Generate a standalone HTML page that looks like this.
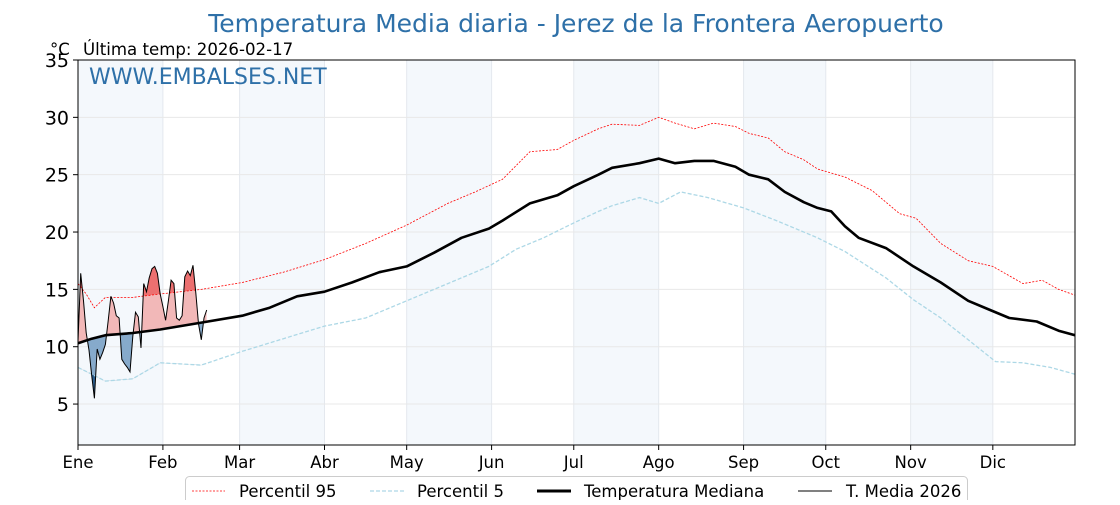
<!DOCTYPE html>
<html><head><meta charset="utf-8">
<style>
body{margin:0;background:#fff;}
svg text{font-family:"DejaVu Sans","Liberation Sans",sans-serif;}
</style></head>
<body>
<svg id="chart" width="1120" height="500" xmlns="http://www.w3.org/2000/svg">
<defs>
<clipPath id="plotClip"><rect x="78" y="60" width="997" height="385"/></clipPath>
<clipPath id="aboveMed"><polygon id="aboveMedPoly"/></clipPath>
<clipPath id="belowMed"><polygon id="belowMedPoly"/></clipPath>
<clipPath id="aboveP95"><polygon id="aboveP95Poly"/></clipPath>
<clipPath id="belowP5"><polygon id="belowP5Poly"/></clipPath>
</defs>
<rect width="1120" height="500" fill="#fff"/>
<g id="bands"></g>
<g id="grid"></g>
<g id="fills" clip-path="url(#plotClip)"></g>
<g id="series" clip-path="url(#plotClip)"></g>
<rect x="78" y="60" width="997" height="385" fill="none" stroke="#000" stroke-width="1"/>
<g id="axes"></g>
<text x="576" y="32" text-anchor="middle" font-size="25" fill="#2e70a8">Temperatura Media diaria - Jerez de la Frontera Aeropuerto</text>
<text x="50" y="55" font-size="16.5" fill="#000">°C</text>
<text x="83" y="55" font-size="16.6" fill="#000">Última temp: 2026-02-17</text>
<text x="89" y="84" font-size="22" fill="#2e70a8">WWW.EMBALSES.NET</text>
<g>
<rect x="185.5" y="476.5" width="782" height="30" rx="4" fill="#fff" stroke="#ccc"/>
<line x1="192" y1="491" x2="225" y2="491" stroke="#f00" stroke-width="0.8" stroke-dasharray="2,1.5"/>
<text x="239" y="497" font-size="16.5">Percentil 95</text>
<line x1="370" y1="491" x2="404" y2="491" stroke="#add8e6" stroke-width="1.2" stroke-dasharray="4,2"/>
<text x="417" y="497" font-size="16.5">Percentil 5</text>
<line x1="537" y1="491" x2="571" y2="491" stroke="#000" stroke-width="3"/>
<text x="584" y="497" font-size="16.5">Temperatura Mediana</text>
<line x1="798" y1="491" x2="832" y2="491" stroke="#000" stroke-width="1"/>
<text x="846" y="497" font-size="16.5">T. Media 2026</text>
</g>
</svg>
<script>
const monthLabels=["Ene","Feb","Mar","Abr","May","Jun","Jul","Ago","Sep","Oct","Nov","Dic"];
const monthStarts=[0,31,59,90,120,151,181,212,243,273,304,334];
const yTicks=[5,10,15,20,25,30,35];
const medDays=[0,5,10,20,30,45,60,70,80,90,100,110,120,130,140,150,155,165,175,181,190,195,205,212,218,225,232,240,245,252,258,265,270,275,280,285,295,305,315,325,333,340,350,358,364];
const medVals=[10.3,10.7,11.0,11.2,11.5,12.1,12.7,13.4,14.4,14.8,15.6,16.5,17.0,18.2,19.5,20.3,21.0,22.5,23.2,24.0,25.0,25.6,26.0,26.4,26.0,26.2,26.2,25.7,25.0,24.6,23.5,22.6,22.1,21.8,20.5,19.5,18.6,17.0,15.6,14.0,13.2,12.5,12.2,11.4,11.0];
const p95Days=[0,3,6,10,20,30,45,60,75,90,105,120,135,145,155,160,165,175,181,190,195,205,212,218,225,232,240,245,252,258,265,270,280,290,300,306,315,325,334,345,352,358,364];
const p95Vals=[15.5,14.6,13.4,14.3,14.3,14.6,15.0,15.6,16.5,17.6,19.0,20.6,22.5,23.5,24.6,25.8,27.0,27.2,28.0,29.0,29.4,29.3,30.0,29.5,29.0,29.5,29.2,28.6,28.2,27.0,26.3,25.5,24.8,23.6,21.6,21.2,19.0,17.5,17.0,15.5,15.8,15.0,14.5];
const p5Days=[0,5,10,20,30,45,60,75,90,105,120,135,150,160,170,181,190,195,205,212,220,230,243,255,270,280,295,305,315,325,335,345,355,364];
const p5Vals=[8.2,7.6,7.0,7.2,8.6,8.4,9.6,10.7,11.8,12.5,14.0,15.5,17.0,18.5,19.5,20.8,21.8,22.3,23.0,22.5,23.5,23.0,22.1,21.0,19.5,18.3,16.0,14.1,12.5,10.6,8.7,8.6,8.2,7.6];
const t2026=[10.5,16.4,14.0,11.2,9.7,7.5,5.5,9.8,8.9,9.5,10.2,12.2,14.4,13.8,12.7,12.5,8.9,8.5,8.2,7.8,10.9,13.0,12.6,9.9,15.5,14.8,16.0,16.8,17.0,16.4,14.6,13.5,12.3,14.0,15.8,15.5,12.5,12.3,12.7,16.1,16.6,16.2,17.1,14.7,12.0,10.6,12.5,13.2];

const X0=78,X1=1075,Y0=60,Y1=445,YMIN=1.43,YMAX=35,DAYS=364;
const xs=d=>X0+d*(X1-X0)/DAYS;
const ys=v=>Y1-(v-YMIN)*(Y1-Y0)/(YMAX-YMIN);
const NS="http://www.w3.org/2000/svg";
function mk(tag,attrs,parent){const e=document.createElementNS(NS,tag);for(const k in attrs)e.setAttribute(k,attrs[k]);parent.appendChild(e);return e;}
function interp(days,vals,d){for(let i=0;i<days.length-1;i++){if(d<=days[i+1]){const t=(d-days[i])/(days[i+1]-days[i]);return vals[i]+t*(vals[i+1]-vals[i]);}}return vals[vals.length-1];}
const pts=(days,vals)=>days.map((d,i)=>xs(d).toFixed(1)+","+ys(vals[i]).toFixed(1)).join(" ");

const bands=document.getElementById('bands'),grid=document.getElementById('grid'),axes=document.getElementById('axes');
monthStarts.forEach((m,i)=>{
  const end=i<11?monthStarts[i+1]:DAYS;
  if(i%2===0){const r=mk('rect',{x:xs(m),y:Y0,width:xs(end)-xs(m),height:Y1-Y0,fill:'#f4f8fc'},bands);
    
    }
  const gl=mk('line',{x1:xs(m),x2:xs(m),y1:Y0,y2:Y1,stroke:'#e4e8ee','stroke-width':1},grid);
  
  
  const tk=mk('line',{x1:xs(m),x2:xs(m),y1:Y1,y2:Y1+5,stroke:'#000'},axes);
  
  
  const t=mk('text',{x:xs(m),y:Y1+23,'text-anchor':'middle','font-size':16.5},axes);
  t.textContent=monthLabels[i];
  
  
});
yTicks.forEach(v=>{
  const gl=mk('line',{x1:X0,x2:X1,y1:ys(v),y2:ys(v),stroke:'#e8e8e8','stroke-width':1},grid);
  
  
  const tk=mk('line',{x1:X0-5,x2:X0,y1:ys(v),y2:ys(v),stroke:'#000'},axes);
  
  
  const t=mk('text',{x:X0-9,y:ys(v)+7,'text-anchor':'end','font-size':19},axes);
  t.textContent=v;
  
  
});

const n=t2026.length,dd=t2026.map((_,i)=>i);
const medAt=dd.map(d=>interp(medDays,medVals,d)),p95At=dd.map(d=>interp(p95Days,p95Vals,d)),p5At=dd.map(d=>interp(p5Days,p5Vals,d));
const lineStr=arr=>dd.map((d,i)=>xs(d).toFixed(1)+","+ys(arr[i]).toFixed(1));
const medL=lineStr(medAt),p95L=lineStr(p95At),p5L=lineStr(p5At),tL=lineStr(t2026);
const xa=xs(0),xb=xs(n-1);
document.getElementById('aboveMedPoly').setAttribute('points',[...medL,xb+","+Y0,xa+","+Y0].join(" "));
document.getElementById('belowMedPoly').setAttribute('points',[...medL,xb+","+Y1,xa+","+Y1].join(" "));
document.getElementById('aboveP95Poly').setAttribute('points',[...p95L,xb+","+Y0,xa+","+Y0].join(" "));
document.getElementById('belowP5Poly').setAttribute('points',[...p5L,xb+","+Y1,xa+","+Y1].join(" "));
const fills=document.getElementById('fills');
const betweenMed=[...tL,...medL.slice().reverse()].join(" ");
const f1=mk('polygon',{points:betweenMed,fill:'#f2b8b8','clip-path':'url(#aboveMed)'},fills);


const f2=mk('polygon',{points:betweenMed,fill:'#86aacb','clip-path':'url(#belowMed)'},fills);


const f3=mk('polygon',{points:[...tL,...p95L.slice().reverse()].join(" "),fill:'#ec7070','clip-path':'url(#aboveP95)'},fills);


const f4=mk('polygon',{points:[...tL,...p5L.slice().reverse()].join(" "),fill:'#2b5e8e','clip-path':'url(#belowP5)'},fills);



const series=document.getElementById('series');
const s1=mk('polyline',{points:pts(p95Days,p95Vals),fill:'none',stroke:'#f00','stroke-width':0.8,'stroke-dasharray':'2,1.5'},series);


const s2=mk('polyline',{points:pts(p5Days,p5Vals),fill:'none',stroke:'#add8e6','stroke-width':1.3,'stroke-dasharray':'4,2'},series);


const s3=mk('polyline',{points:pts(medDays,medVals),fill:'none',stroke:'#000','stroke-width':2.6,'stroke-linejoin':'round'},series);


const s4=mk('polyline',{points:tL.join(" "),fill:'none',stroke:'#000','stroke-width':1},series);


</script>
</body></html>
